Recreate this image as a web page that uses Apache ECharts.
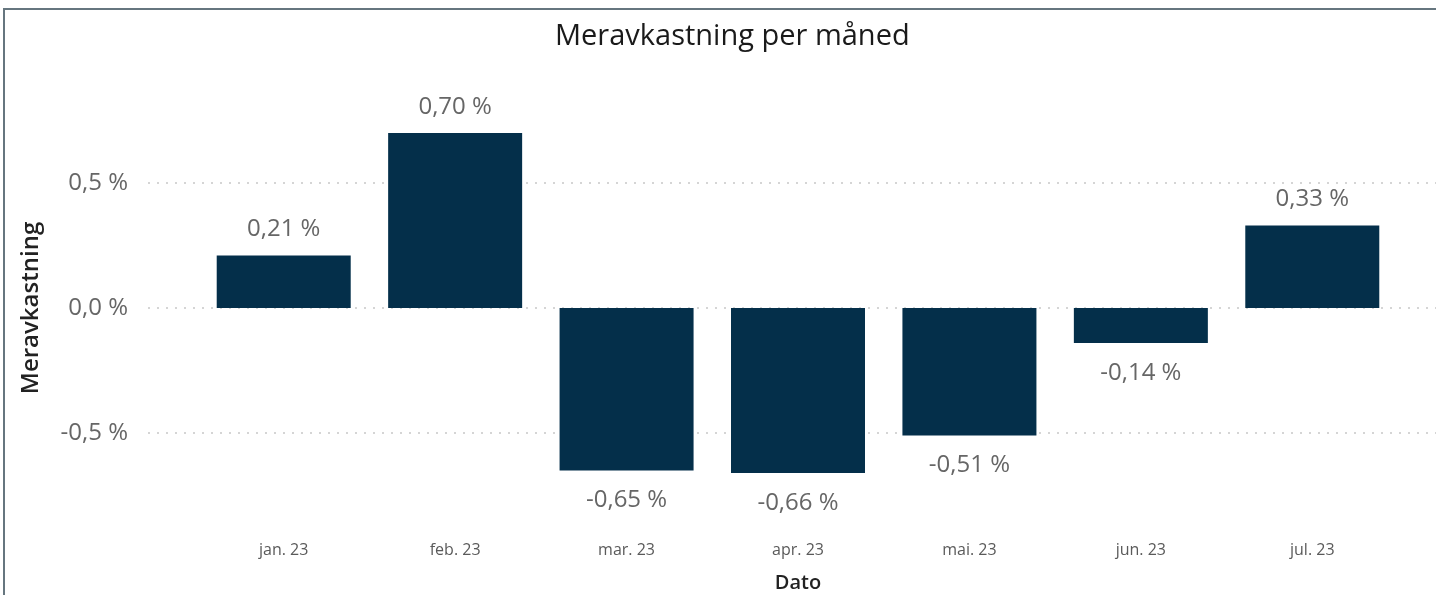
<!DOCTYPE html>
<html>
<head>
<meta charset="utf-8">
<script src="https://cdn.jsdelivr.net/npm/echarts@6/dist/echarts.min.js"></script>
<style>
  html, body { margin: 0; padding: 0; background: #fff; }
  #main { position: absolute; left: 0; top: 0; width: 1436px; height: 595px; }
  #frame { position: absolute; left: 3px; top: 8px; right: 0; bottom: 0;
           border-left: 2px solid #66767f; border-top: 2px solid #66767f; pointer-events: none; }
</style>
</head>
<body>
<div id="main"></div>
<div id="frame"></div>
<script>
'use strict'

// months and monthly excess return (%)
const categories = ['jan. 23', 'feb. 23', 'mar. 23', 'apr. 23', 'mai. 23', 'jun. 23', 'jul. 23'];
const values = [0.21, 0.70, -0.65, -0.66, -0.51, -0.14, 0.33];
const yTicks = [-0.5, 0.0, 0.5];

var myChart = echarts.init(document.getElementById('main'));

const fmt = (v, d) => v.toFixed(d).replace('.', ',') + ' %';
const labelFont = '"Segoe UI", "Open Sans", "Noto Sans", sans-serif';

var option = {
    animation: false,
    title: {
        text: 'Meravkastning per måned',
        left: 550,
        top: 17,
        textStyle: { fontFamily: labelFont, fontSize: 29, fontWeight: 'normal', color: '#1a1a1a' }
    },
    grid: [
        // bars
        { left: 198, right: 38, top: 58, bottom: 37, outerBoundsMode: 'none' },
        // background grid lines + y labels
        { left: 148, right: 0, top: 58, bottom: 37, outerBoundsMode: 'none' }
    ],
    xAxis: [
        {
            type: 'category',
            gridIndex: 0,
            data: categories,
            axisLine: { show: false },
            axisTick: { show: false },
            axisLabel: { margin: -16, fontFamily: '"Open Sans", sans-serif', fontSize: 16, color: '#5a5a5a' },
            name: 'Dato',
            nameLocation: 'middle',
            nameGap: 15,
            nameTextStyle: { fontFamily: '"Open Sans", sans-serif', fontSize: 20, fontWeight: 600, color: '#222' }
        },
        {
            type: 'value',
            gridIndex: 1,
            show: false
        }
    ],
    yAxis: [
        {
            type: 'value',
            gridIndex: 0,
            min: -1, max: 1, interval: 0.5,
            show: false,
            splitLine: { show: false }
        },
        {
            type: 'value',
            gridIndex: 1,
            min: -1, max: 1, interval: 0.5,
            axisLine: { show: false },
            axisTick: { show: false },
            axisLabel: {
                margin: 20,
                fontFamily: labelFont,
                fontSize: 24,
                color: '#666',
                formatter: v => yTicks.some(t => Math.abs(t - v) < 1e-9) ? fmt(v, 1) : ''
            },
            splitLine: {
                show: true,
                lineStyle: {
                    type: [2, 7],
                    width: 1.5,
                    color: ['rgba(0,0,0,0)', '#c8c8c8', '#c8c8c8', '#c8c8c8', 'rgba(0,0,0,0)']
                }
            },
            name: 'Meravkastning',
            nameLocation: 'middle',
            nameGap: 105,
            nameRotate: 90,
            nameTextStyle: { fontFamily: '"Open Sans", sans-serif', fontSize: 24, fontWeight: 600, color: '#222' }
        }
    ],
    series: [
        {
            type: 'bar',
            xAxisIndex: 0,
            yAxisIndex: 0,
            barWidth: 134,
            itemStyle: { color: '#042f4a' },
            data: values.map(v => ({
                value: v,
                label: {
                    show: true,
                    position: v >= 0 ? 'top' : 'bottom',
                    distance: v >= 0 ? 14 : 18,
                    formatter: p => fmt(p.value, 2),
                    fontFamily: labelFont,
                    fontSize: 24,
                    color: '#666'
                }
            }))
        }
    ]
};

myChart.setOption(option);
</script>
</body>
</html>
